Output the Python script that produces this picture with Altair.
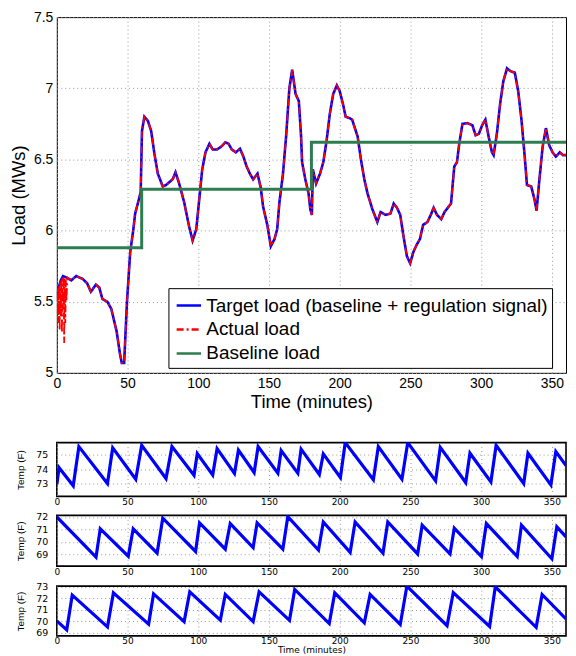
import altair as alt
import pandas as pd

FONT = "Liberation Sans"
SMALL_FONT = "DejaVu Sans"
NARROW_FONT = "'Liberation Sans Narrow', 'Arial Narrow', 'Liberation Sans', sans-serif"

# ---------------- main plot data ----------------
series_names = ["Target load (baseline + regulation signal)", "Actual load", "Baseline load"]
series_colors = ["#0000ff", "#ff0000", "#2e7d50"]

target_t = [0, 0.5, 2.8, 4.4, 6.7, 10.2, 13.7, 18.3, 21.4, 24.1, 27.6, 30, 32.2, 35.7, 38.5, 42.3, 44.7,
            45.9, 47.6, 49.6, 51.9, 54, 55.4, 57.5, 59.3, 60.2, 61.9, 64.4, 66.7, 69, 71.4, 74.9, 77.2,
            79.5, 81.9, 83.9, 86.5, 90, 93.5, 96, 98.6, 100.5, 102.8, 105.1, 107.9, 110.2, 113.3, 116.3,
            119.1, 121.4, 123.7, 126.5, 129.5, 131.9, 134.2, 136.5, 138.8, 141.9, 144.2, 145.8, 148.8,
            151.3, 153.9, 155.8, 157.4, 159.8, 162.1, 164.4, 166.4, 168.8, 171.1, 172.7, 173.4, 175.7,
            178, 179.2, 180.3, 181, 183.3, 186.1, 188.4, 190.7, 193, 195.4, 198, 200, 202.3, 204.2, 207,
            208.8, 210.4, 212.7, 215, 217.4, 219.7, 223.1, 226.6, 228.9, 232.4, 235.9, 238.2, 240.5,
            242.8, 245.1, 247.5, 249.8, 252.1, 254.4, 256.7, 259, 262, 264.4, 266.4, 268.8, 271.8,
            274.1, 276.4, 278.7, 281, 282.9, 284.5, 286.8, 290.3, 293.8, 296.1, 298.4, 300.7, 303, 305.3,
            307.6, 308.8, 311.1, 313.4, 315.7, 318.3, 320.8, 323.8, 326.2, 328.5, 330.8, 332.4, 335.4,
            337.7, 339.2, 341.2, 343.5, 345.8, 348.1, 350.5, 352.8, 355.6, 357.9, 360]
target_v = [5.55, 5.57, 5.65, 5.68, 5.67, 5.65, 5.68, 5.66, 5.63, 5.57, 5.62, 5.6, 5.52, 5.5, 5.45, 5.29,
            5.13, 5.07, 5.07, 5.5, 5.85, 6.0, 6.12, 6.2, 6.27, 6.7, 6.8, 6.77, 6.7, 6.54, 6.4, 6.31, 6.32,
            6.34, 6.36, 6.41, 6.33, 6.2, 6.03, 5.93, 6.01, 6.2, 6.43, 6.55, 6.61, 6.57, 6.57, 6.59,
            6.62, 6.61, 6.57, 6.55, 6.575, 6.52, 6.45, 6.4, 6.36, 6.4, 6.3, 6.17, 6.04,
            5.89, 5.94, 6.01, 6.2, 6.39, 6.66, 7.0, 7.13, 6.96, 6.91, 6.66, 6.48, 6.36,
            6.26, 6.15, 6.11, 6.43, 6.33, 6.4, 6.48, 6.63, 6.82, 6.96, 7.02, 6.98, 6.89, 6.8, 6.79,
            6.78, 6.73, 6.66, 6.5, 6.36, 6.26, 6.15, 6.06, 6.13, 6.11, 6.12, 6.19, 6.16,
            6.11, 5.96, 5.82, 5.77, 5.85, 5.9, 5.94, 6.04, 6.06, 6.11, 6.16, 6.11, 6.08,
            6.13, 6.16, 6.19, 6.45, 6.48, 6.61, 6.75, 6.755, 6.74, 6.67, 6.68, 6.74, 6.78, 6.66,
            6.55, 6.53, 6.68, 6.89, 7.05, 7.14, 7.12, 7.11, 6.98, 6.78, 6.52, 6.32, 6.31,
            6.22, 6.14, 6.36, 6.59, 6.72, 6.6, 6.55, 6.52, 6.55, 6.53, 6.53]

# actual load: noisy start, then follows the target
actual_early_t = [0, 0.4, 0.8, 1.2, 1.6, 2.0, 2.4, 2.8, 3.2, 3.6, 4.0, 4.4, 4.8, 5.2, 5.6, 6.0, 6.4, 6.8, 7.4]
actual_early_v = [5.55, 5.42, 5.6, 5.35, 5.62, 5.3, 5.64, 5.4, 5.66, 5.28, 5.67, 5.45, 5.68, 5.21, 5.66,
                  5.35, 5.65, 5.5, 5.67]

baseline_t = [0, 60, 180, 360]
baseline_v = [5.88, 6.29, 6.62, 6.62]

# ---------------- temperature panels ----------------
p1_t = [0, 1.6, 11.6, 15.6, 35.8, 39.5, 55.8, 60, 77.2, 81.4, 97, 99.3, 110.2, 113.3, 125.6, 128.4,
        139.5, 142.3, 156.3, 158.6, 170.4, 172.7, 185.6, 188.4, 200.5, 203.9, 223.8, 227.3, 244, 248.1,
        267.8, 271.1, 289.1, 292.1, 306.9, 310.6, 330.1, 333.1, 349.3, 352.8, 360]
p1_v = [72.95, 74.1, 72.84, 75.58, 73.0, 75.49, 73.3, 75.67, 73.35, 75.58, 73.58, 75.09, 73.6, 75.44,
        73.7, 75.33, 73.77, 75.58, 73.72, 75.3, 73.72, 75.4, 73.63, 75.07, 73.42, 75.86, 73.26, 75.58,
        73.3, 75.86, 73.19, 75.53, 73.07, 75.12, 73.12, 75.67, 73.0, 75.12, 72.91, 75.23, 74.25]
p2_t = [0, 27.7, 30.7, 50.5, 54, 70.9, 74.9, 98.1, 100.9, 119.1, 122.6, 138.8, 141.6, 159.8, 163.3,
        185, 188.4, 207.4, 210.9, 230.6, 234, 255.1, 258.3, 278, 281, 300.2, 303.7, 325.5, 328.5, 350,
        353.5, 360]
p2_v = [72.0, 68.77, 71.05, 68.85, 71.05, 69.1, 71.9, 69.23, 71.53, 69.42, 71.47, 69.55, 71.53, 69.42,
        72.03, 69.34, 71.6, 69.16, 71.6, 69.1, 71.6, 69.03, 71.34, 69.03, 71.1, 68.82, 71.47, 68.82,
        71.34, 68.64, 71.21, 70.4]
p3_t = [0, 7, 10.9, 35.8, 40, 64.9, 68.4, 90, 94, 115.6, 119.1, 138.8, 143, 164.5, 168.2, 192.6, 196.5,
        217.4, 221.5, 242.8, 247.5, 275.9, 280.3, 306, 310, 338.9, 343.1, 360]
p3_v = [70.03, 69.25, 72.28, 69.5, 72.47, 69.75, 72.39, 69.97, 72.55, 70.1, 72.33, 69.97, 72.55, 70.08,
        72.77, 69.8, 72.47, 69.86, 72.33, 69.72, 73.06, 69.61, 72.5, 69.55, 73.0, 69.47, 72.33, 70.2]

x_ticks = [0, 50, 100, 150, 200, 250, 300, 350]

PLOT_W = 511

# ---------------- build tables ----------------
rows = []
for t, v in zip(target_t, target_v):
    rows.append({"t": t, "v": v, "s": series_names[0]})
for t, v in zip(actual_early_t, actual_early_v):
    rows.append({"t": t, "v": v, "s": series_names[1]})
for t, v in zip(target_t, target_v):
    if t > actual_early_t[-1]:
        rows.append({"t": t, "v": v, "s": series_names[1]})
for t, v in zip(baseline_t, baseline_v):
    rows.append({"t": t, "v": v, "s": series_names[2]})
main_df = pd.DataFrame(rows)

legend = alt.Legend(
    title=None, orient="none", legendX=112, legendY=272,
    symbolType="stroke", symbolSize=600, symbolStrokeWidth=2.5, symbolOffset=3,
    labelFont=FONT, labelFontSize=19, labelColor="black", labelLimit=0,
    padding=4, rowPadding=0, labelOffset=4,
    fillColor="white", strokeColor="black", cornerRadius=0,
)

enc_x = alt.X("t:Q", scale=alt.Scale(domain=[0, 360], nice=False, zero=False),
              axis=alt.Axis(values=x_ticks, title="Time (minutes)", labelFontSize=14,
                            titleFontSize=18.5, labelPadding=4, titlePadding=2))
enc_y = alt.Y("v:Q", scale=alt.Scale(domain=[5, 7.5], nice=False, zero=False),
              axis=alt.Axis(values=[5, 5.5, 6, 6.5, 7, 7.5], format="~g", title="Load (MWs)",
                            labelFontSize=14, titleFontSize=18.5, labelPadding=4, titlePadding=5))
enc_color = alt.Color("s:N", scale=alt.Scale(domain=series_names, range=series_colors), legend=legend)
enc_dash = alt.StrokeDash("s:N", scale=alt.Scale(domain=series_names,
                                                 range=[[1, 0], [7, 3, 2, 3], [1, 0]]), legend=legend)

def layer(name, width, interp="linear"):
    return alt.Chart(main_df).transform_filter(alt.datum.s == name).mark_line(
        strokeWidth=width, interpolate=interp, clip=True
    ).encode(x=enc_x, y=enc_y, color=enc_color, strokeDash=enc_dash)

main = alt.layer(
    layer(series_names[0], 2.6),
    layer(series_names[1], 1.8),
    layer(series_names[2], 3, "step-after"),
).properties(width=PLOT_W, height=357,
             view=alt.ViewBackground(stroke="black", strokeWidth=1))


def temp_panel(ts, vs, domain, yticks, height, last=False, spacer=False):
    df = pd.DataFrame({"t": ts, "v": vs})
    xaxis = alt.Axis(values=x_ticks, labelFont=SMALL_FONT, labelFontSize=9, labelPadding=1,
                     title="Time (minutes)" if last else None, titleFont=SMALL_FONT,
                     titleFontSize=9, titlePadding=0)
    ch = alt.Chart(df).mark_line(color="#0000ff", strokeWidth=3.2, clip=True).encode(
        x=alt.X("t:Q", scale=alt.Scale(domain=[0, 360], nice=False, zero=False), axis=xaxis),
        y=alt.Y("v:Q", scale=alt.Scale(domain=domain, nice=False, zero=False),
                axis=alt.Axis(values=yticks, format="d", labelFont=SMALL_FONT, labelFontSize=9.5,
                              labelPadding=9, title="Temp (F)", titleFont=NARROW_FONT,
                              titleFontSize=10, titlePadding=10)),
    )
    props = dict(width=PLOT_W, height=height,
                 view=alt.ViewBackground(stroke="black", strokeWidth=1.6))
    if spacer:
        props["title"] = alt.TitleParams(" ", fontSize=2, offset=24.5)
    return ch.properties(**props)


p1 = temp_panel(p1_t, p1_v, [72.1, 75.86], [73, 74, 75], 54, spacer=True)
p2 = temp_panel(p2_t, p2_v, [68.05, 72.13], [69, 70, 71, 72], 51)
p3 = temp_panel(p3_t, p3_v, [68.72, 73.06], [69, 70, 71, 72, 73], 50, last=True)

chart = alt.vconcat(main, p1, p2, p3, spacing=3).properties(
    padding={"left": 1, "top": 0, "right": 1, "bottom": 0}
).configure_axis(
    grid=True, gridDash=[1, 3], gridColor="#9a9a9a", gridOpacity=1, domain=False, ticks=False,
    minExtent=0, labelFlush=False,
    labelFont=FONT, titleFont=FONT, labelColor="black", titleColor="black", titleFontWeight="normal",
).configure_view(stroke="black")

chart.save("out.html", embed_options={"renderer": "svg", "actions": False})
